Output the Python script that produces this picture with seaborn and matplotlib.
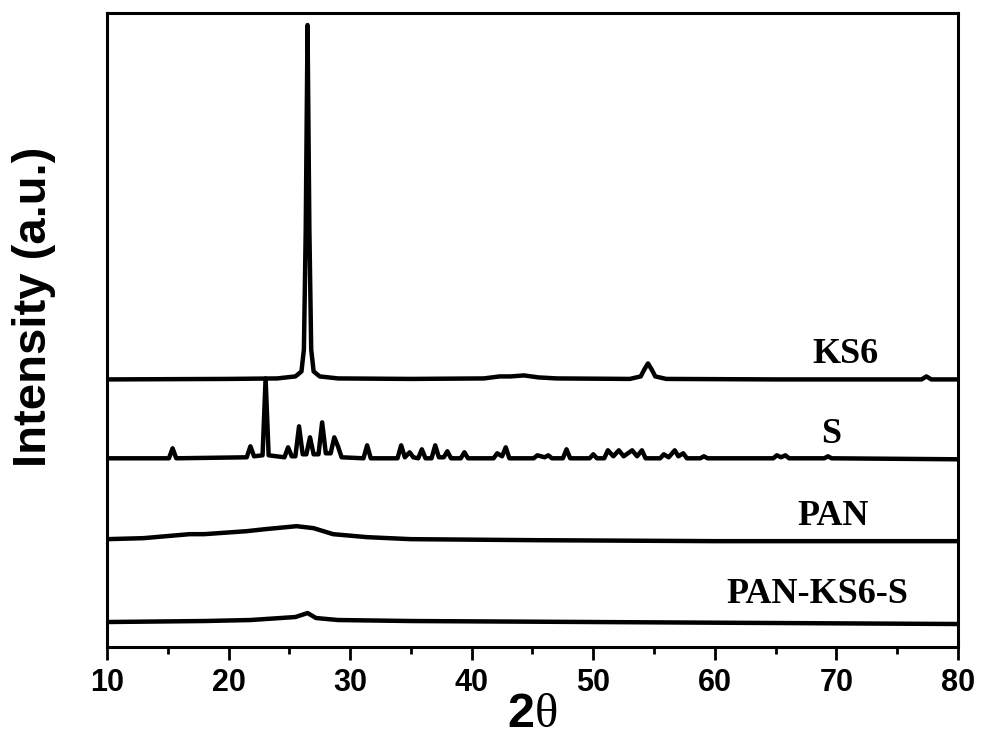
import matplotlib
matplotlib.use("Agg")
import matplotlib.pyplot as plt
import seaborn as sns
import pandas as pd

ks6_pts = [(10, 0), (20, 0.5), (24, 1), (25.5, 3), (26.0, 8), (26.2, 30), (26.35, 150),
           (26.5, 355), (26.65, 150), (26.8, 30), (27.0, 8), (27.5, 3), (29, 1), (35, 0.5),
           (41, 1), (42.3, 3), (43.2, 3), (44.3, 4), (45.5, 2), (47, 1), (53, 0.5),
           (53.9, 3), (54.2, 10), (54.5, 16), (54.8, 10), (55.1, 3), (56, 0.5), (65, 0),
           (77.0, 0), (77.4, 3), (77.8, 0), (80, 0)]

s_pts = [(10, 0), (15.1, 0), (15.4, 10), (15.7, 0), (21.5, 1), (21.8, 12), (22.1, 2),
         (22.8, 3), (23.05, 80), (23.3, 3), (24.6, 1), (24.9, 11), (25.2, 2), (25.5, 2),
         (25.8, 32), (26.1, 4), (26.4, 4), (26.7, 21), (27.0, 4), (27.4, 4), (27.7, 36),
         (28.0, 5), (28.4, 5), (28.7, 21), (29.0, 12), (29.3, 1), (31.1, 0), (31.4, 13),
         (31.7, 0), (33.9, 0), (34.2, 13), (34.5, 1), (34.9, 6), (35.2, 1), (35.6, 0),
         (35.9, 9), (36.2, 0), (36.7, 0), (37.0, 13), (37.3, 1), (37.7, 1), (38.0, 7),
         (38.3, 0), (39.1, 0), (39.4, 6), (39.7, 0), (41.8, 0), (42.1, 5), (42.5, 2),
         (42.8, 11), (43.1, 0), (45.1, 0), (45.4, 3), (46.0, 1), (46.3, 3), (46.6, 0),
         (47.5, 0), (47.8, 9), (48.1, 0), (49.7, 0), (50.0, 4), (50.3, 0), (50.9, 0),
         (51.2, 8), (51.65, 2), (52.1, 8), (52.5, 2), (53.2, 8), (53.6, 2), (54.0, 8),
         (54.3, 0), (55.5, 0), (55.8, 4), (56.2, 1), (56.7, 8), (57.0, 2), (57.4, 5),
         (57.7, 0), (58.8, 0), (59.1, 2), (59.4, 0), (64.8, 0), (65.1, 3), (65.45, 1),
         (65.8, 3), (66.1, 0), (69.0, 0), (69.3, 2), (69.6, 0), (80, -1)]

pan_pts = [(10, 0), (13, 1), (16.8, 5), (18, 5), (21.5, 8), (23, 10), (25.6, 13), (27, 11),
           (28.6, 5), (31.4, 2), (35, 0), (45, -1), (60, -2), (80, -2)]

pks_pts = [(10, 0), (18, 1), (21.8, 2), (25.5, 5), (26.5, 9), (27.2, 4), (29, 2), (35, 1),
           (50, 0), (80, -2)]

muestras = ["KS6", "S", "PAN", "PAN-KS6-S"]
desplazamientos = [268, 189, 108, 25]
etiquetas_x = [70.7, 69.6, 69.7, 68.4]
etiquetas_y = [293, 213, 131, 53]

# armar un DataFrame largo con las curvas apiladas
filas = []
for nombre, pts, off in zip(muestras, [ks6_pts, s_pts, pan_pts, pks_pts], desplazamientos):
    for x, y in pts:
        filas.append({"muestra": nombre, "2theta": x, "intensidad": y + off})
df = pd.DataFrame(filas)

sns.set_style("ticks")
plt.rcParams["font.family"] = ["Liberation Sans", "DejaVu Sans"]
plt.rcParams["text.color"] = "black"
plt.rcParams["axes.labelcolor"] = "black"
plt.rcParams["xtick.color"] = "black"
plt.rcParams["mathtext.fontset"] = "custom"
plt.rcParams["mathtext.rm"] = "Liberation Serif"
plt.rcParams["mathtext.bf"] = "Liberation Sans:bold"

fig = plt.figure(figsize=(9.81, 7.40), dpi=100)
ax = fig.add_axes([0.109, 0.1257, 0.8676, 0.8567])

for nombre in muestras:
    sns.lineplot(data=df[df["muestra"] == nombre], x="2theta", y="intensidad",
                 color="black", linewidth=3.2, ax=ax, estimator=None, sort=False)

for nombre, tx, ty in zip(muestras, etiquetas_x, etiquetas_y):
    ax.text(tx, ty, nombre, ha="center", va="center", fontsize=26,
            fontweight="bold", family="Liberation Serif", color="black")

ax.set_xlim(10, 80)
ax.set_ylim(0, 635)
ax.set_xticks(range(10, 81, 10))
ax.set_xticks(range(15, 80, 10), minor=True)
ax.set_yticks([])
ax.tick_params(axis="x", which="major", direction="out", length=9, width=2,
               labelsize=22, pad=6, colors="black")
ax.tick_params(axis="x", which="minor", direction="out", length=5, width=2, colors="black")
for lbl in ax.get_xticklabels():
    lbl.set_fontweight("bold")
for sp in ax.spines.values():
    sp.set_linewidth(2.2)
    sp.set_color("black")

ax.set_xlabel(r"$\mathbf{2}\mathrm{\theta}$", fontsize=35, labelpad=-4)
ax.set_ylabel("Intensity (a.u.)", fontsize=34, fontweight="bold")
ax.yaxis.set_label_coords(-0.06, 0.536)

fig.savefig("out.png", dpi=100)
